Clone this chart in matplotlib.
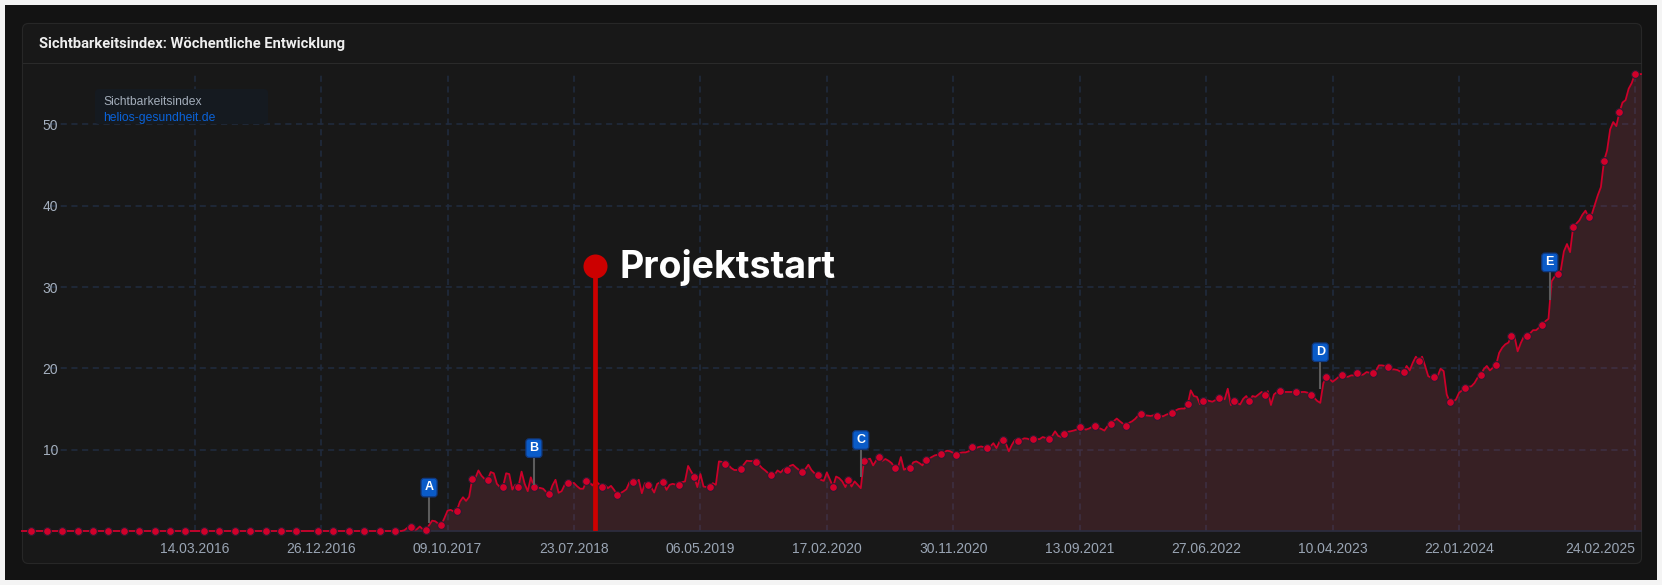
import numpy as np
import pandas as pd
import matplotlib
matplotlib.use("Agg")
import matplotlib.pyplot as plt
from matplotlib.patches import FancyBboxPatch, Rectangle
from matplotlib.transforms import IdentityTransform

# weekly values, first week is 16.02.2015 (flat zero until autumn 2017)
values = [0] * 124 + [
    .1, .4, .53, .1, .2, .55, .2, .16, .7, 1.27,
    1.2, .9, .78, 1.6, 2.5, 2.6, 2.4, 2.5, 3.6, 4.15,
    3.7, 4.2, 6.4, 6.5, 7.45, 6.8, 6.4, 6.3, 7.25, 7.1,
    5.8, 5.4, 5.47, 7.1, 7.0, 5.1, 5.7, 5.47, 7.3, 5.8,
    4.9, 6.6, 5.47, 5.3, 5.3, 5.2, 4.8, 4.5, 5.6, 6.3,
    4.7, 4.9, 5.7, 5.85, 5.9, 5.9, 5.5, 5.2, 5.2, 6.1,
    6.0, 5.6, 6.17, 5.8, 5.47, 5.68, 5.27, 5.55, 5.06, 4.44,
    4.65, 4.86, 5.14, 6.0, 6.05, 5.88, 6.3, 4.65, 5.88, 5.68,
    5.4, 4.73, 5.8, 6.0, 5.97, 5.06, 5.68, 5.8, 5.7, 5.68,
    6.0, 6.1, 8.0, 7.3, 6.67, 5.4, 7.0, 5.47, 5.4, 5.43,
    5.88, 5.68, 8.56, 8.5, 8.19, 8.15, 7.74, 7.5, 7.5, 7.65,
    8.15, 8.64, 8.6, 8.6, 8.5, 8.15, 7.74, 7.45, 7.1, 6.83,
    6.9, 7.45, 7.2, 7.6, 7.45, 8.0, 8.15, 7.8, 7.5, 7.28,
    7.6, 8.15, 7.5, 7.1, 6.83, 6.3, 6.17, 7.2, 6.3, 5.43,
    6.7, 6.5, 6.1, 5.4, 6.3, 5.47, 6.1, 5.68, 5.27, 8.64,
    8.77, 8.9, 8.07, 8.68, 9.05, 8.64, 8.85, 8.64, 8.35, 7.78,
    7.74, 9.1, 7.53, 7.74, 7.7, 8.44, 8.56, 8.35, 8.07, 8.77,
    8.89, 9.1, 9.3, 9.38, 9.42, 9.7, 9.88, 9.8, 9.6, 9.3,
    9.6, 9.67, 9.67, 9.8, 10.37, 10.1, 10.3, 10.4, 10.3, 10.25,
    10.4, 10.8, 10.2, 11.0, 11.23, 10.8, 9.8, 10.6, 11.2, 11.1,
    11.2, 11.4, 11.36, 11.2, 11.3, 11.3, 11.3, 11.56, 11.44, 11.36,
    11.65, 12.26, 11.7, 11.56, 11.98, 12.2, 12.26, 12.35, 12.47, 12.84,
    12.63, 12.47, 12.6, 12.8, 12.96, 12.7, 12.55, 12.35, 12.9, 13.2,
    13.5, 13.83, 13.5, 13.2, 12.96, 13.3, 13.5, 13.8, 14.24, 14.36,
    14.24, 14.2, 14.15, 14.24, 14.2, 14.2, 14.1, 14.3, 14.44, 14.57,
    14.8, 15.0, 15.06, 15.06, 15.56, 17.3, 16.6, 16.5, 15.6, 16.05,
    16.1, 16.0, 15.9, 16.1, 16.3, 16.4, 16.2, 17.5, 15.5, 15.93,
    15.76, 15.56, 16.25, 16.6, 15.93, 16.6, 16.5, 16.8, 17.1, 16.67,
    17.2, 15.5, 16.8, 17.1, 17.28, 17.1, 17.1, 17.1, 17.1, 17.04,
    17.0, 17.1, 17.1, 17.0, 16.67, 16.4, 16.0, 15.76, 18.2, 18.93,
    18.7, 18.35, 18.64, 18.97, 19.14, 18.97, 18.97, 19.14, 19.14, 19.38,
    19.14, 19.26, 19.55, 19.47, 19.38, 19.67, 20.37, 20.37, 20.3, 20.12,
    19.88, 19.88, 19.8, 19.6, 19.55, 20.3, 19.75, 20.7, 21.44, 20.9,
    21.44, 20.3, 19.05, 18.85, 18.93, 19.0, 19.96, 19.67, 16.8, 15.84,
    15.9, 16.17, 17.0, 17.3, 17.65, 17.74, 17.8, 18.2, 18.85, 19.14,
    19.9, 20.3, 19.75, 20.1, 20.4, 21.9, 22.55, 22.96, 23.17, 24.0,
    23.9, 22.1, 23.1, 23.9, 24.0, 24.3, 24.7, 24.7, 25.05, 25.33,
    25.8, 26.1, 30.7, 31.3, 31.6, 32.1, 34.4, 35.3, 34.3, 37.4,
    37.8, 38.2, 38.9, 39.4, 38.6, 38.9, 40.1, 41.3, 42.3, 45.5,
    46.8, 49.4, 50.3, 49.8, 51.5, 52.7, 53.0, 54.4, 55.1, 56.2,
    56.2, 56.2,
]
first_week = "2015-02-16"

# which weeks (counted from 14.03.2016) carry a dot
marker_weeks = [-53, -48, -43, -38, -33, -28, -23, -18, -13, -8, -3,
                3, 8, 13, 18, 23, 28, 33, 40, 45, 50, 55, 60, 65, 70, 75,
                80, 85, 90, 95, 100, 105, 110, 115, 121, 127] + list(range(132, 468, 5))

tick_labels = ["14.03.2016", "26.12.2016", "09.10.2017", "23.07.2018", "06.05.2019", "17.02.2020",
               "30.11.2020", "13.09.2021", "27.06.2022", "10.04.2023", "22.01.2024", "24.02.2025"]
y_ticks = [10, 20, 30, 40, 50]

flag_letters = ["A", "B", "C", "D", "E"]
flag_dates = ["2017-08-28", "2018-04-23", "2020-05-04", "2023-03-13", "2024-08-15"]
flag_bottom = [1.0, 5.7, 6.67, 17.5, 28.4]
flag_top = [4.2, 9.05, 10.05, 20.85, 31.9]

project_date = "2018-09-09"
project_value = 32.65

dates = pd.date_range(first_week, periods=len(values), freq="7D")
values = np.array(values)
ticks = pd.to_datetime(tick_labels, format="%d.%m.%Y")
marker_idx = [w + 56 for w in marker_weeks]

W, H = 1662, 585
fig = plt.figure(figsize=(W / 100, H / 100), dpi=100, facecolor="#f4f4f4")

# background card, in pixels of the picture
bg = fig.add_axes([0, 0, 1, 1], zorder=0)
bg.set_xlim(0, W)
bg.set_ylim(H, 0)
bg.axis("off")
bg.add_patch(Rectangle((5, 5), 1652, 575, fc="#131313", ec="none"))
bg.add_patch(FancyBboxPatch((22.5, 23.5), 1619, 540, boxstyle="round,pad=0,rounding_size=6",
                            fc="#181818", ec="#272727", lw=0.8))
bg.plot([23, 1641], [63, 63], color="#2a2a2a", lw=0.8)
bg.text(39, 44, "Sichtbarkeitsindex: Wöchentliche Entwicklung", color="#eeeeee",
        fontsize=10.6, fontweight="bold", family="Roboto", va="center")

# chart
ax = fig.add_axes([22 / W, (H - 531) / H, 1619 / W, 468 / H], zorder=1)
ax.patch.set_alpha(0)
ax.set_xlim(dates[0], dates[-1])
ax.set_ylim(0, 468 / 8.13)
for s in ["top", "right", "left"]:
    ax.spines[s].set_visible(False)
ax.spines["bottom"].set_color("#2b2e40")
ax.spines["bottom"].set_linewidth(1.2)

grid_color = "#212c40"
ax.vlines(ticks, 0, 56.2, color=grid_color, lw=1.1, linestyles=(0, (4, 3)), zorder=1)
ax.hlines(y_ticks, pd.Timestamp("2015-04-20"), ticks[-1], color=grid_color, lw=1.1,
          linestyles=(0, (4, 3)), zorder=1)

ax.fill_between(dates, values, color="#b84559", alpha=0.2, lw=0, zorder=2)
ax.plot(dates, values, color="#cc002a", lw=1.3, zorder=3, clip_on=False)
ax.plot(dates[marker_idx], values[marker_idx], ls="none", marker="o", ms=5.6, mfc="#d0002a",
        mec="#2a1c30", mew=0.8, zorder=4, clip_on=False)

# Projektstart
ax.plot([pd.Timestamp(project_date)] * 2, [0, project_value], color="#cc0000", lw=3.4,
        solid_capstyle="butt", zorder=5)
ax.plot(pd.Timestamp(project_date), project_value, "o", color="#cc0000", ms=17.3, mew=0, zorder=5)
ax.annotate("Projektstart", (pd.Timestamp(project_date), project_value), xytext=(17.5, -1.5),
            textcoords="offset points", color="white", fontsize=27, fontweight="bold",
            family="Inter", va="center", zorder=6)

# axis labels
ax.set_xticks(ticks)
ax.set_xticklabels(tick_labels)
ax.set_yticks(y_ticks)
ax.tick_params(axis="both", length=0, colors="#9aa5b4", labelsize=10)
for lab in ax.get_xticklabels():
    lab.set_family("Liberation Sans")
ax.get_xticklabels()[-1].set_ha("right")
ax.tick_params(axis="x", pad=8)
for lab in ax.get_yticklabels():
    lab.set_family("Liberation Sans")
    lab.set_x(0)
ax.tick_params(axis="y", pad=-26, labelcolor="#a5b0bf")

# legend box sits above the grid
top = fig.add_axes([0, 0, 1, 1], zorder=2)
top.set_xlim(0, W)
top.set_ylim(H, 0)
top.axis("off")
top.add_patch(FancyBboxPatch((95, 89), 173, 35, boxstyle="round,pad=0,rounding_size=4",
                             fc="#151a20", ec="none"))
top.text(103, 102, "Sichtbarkeitsindex", color="#a3adba", fontsize=8.7, family="Liberation Sans", va="center")
top.text(103, 118, "helios-gesundheit.de", color="#0a62d8", fontsize=8.7, family="Liberation Sans", va="center")

# flags A-E, box has a fixed size in pixels
to_px = ax.transData.transform
for letter, d, low, up in zip(flag_letters, flag_dates, flag_bottom, flag_top):
    d = pd.Timestamp(d)
    ax.plot([d, d], [low, up], color="#5c5c5c", lw=1.5, solid_capstyle="butt", zorder=6)
    x0, y0 = to_px((matplotlib.dates.date2num(d), up))
    fig.add_artist(FancyBboxPatch((x0 - 8, y0), 16, 18.5, boxstyle="round,pad=0,rounding_size=3",
                                  fc="#0a5bc8", ec="#10387f", lw=0.9, transform=IdentityTransform(), zorder=7))
    fig.text(x0 / W, (y0 + 9.5) / H, letter, color="white", fontsize=9, fontweight="bold",
             family="Liberation Sans", ha="center", va="center", zorder=8)

fig.savefig("out.png", dpi=100, facecolor=fig.get_facecolor())
